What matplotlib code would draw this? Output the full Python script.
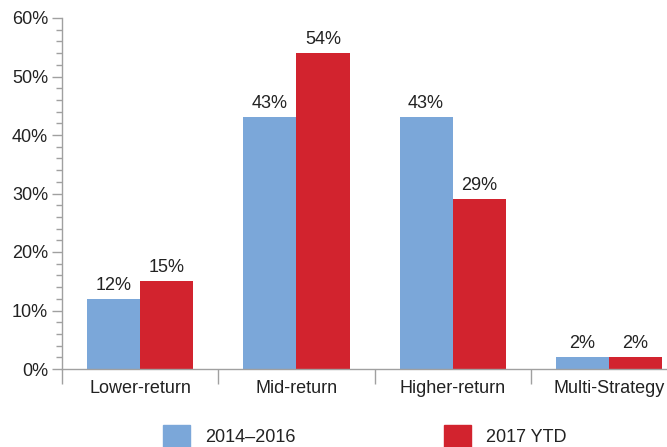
import numpy as np
import matplotlib
matplotlib.use('Agg')
import matplotlib.pyplot as plt
import matplotlib.patches as mpatches
from matplotlib.ticker import MultipleLocator, FuncFormatter

plt.rcParams['font.family'] = ['Liberation Sans', 'DejaVu Sans']

categories = ['Lower-return', 'Mid-return', 'Higher-return', 'Multi-Strategy']
series_names = ['2014\u20132016', '2017 YTD']
vals_2014_2016 = [12, 43, 43, 2]
vals_2017_ytd = [15, 54, 29, 2]

COLOR_A = '#7BA7D9'
COLOR_B = '#D2232E'
SPINE = '#A0A0A0'
FS = 13

fig = plt.figure(figsize=(6.67, 4.47), dpi=100)
# axes runs past the right edge, as in the original
ax = fig.add_axes([62 / 667, 1 - 369 / 447, 625 / 667, 351 / 447])

x = np.arange(len(categories))
w = 0.34
bars_a = ax.bar(x - w / 2, vals_2014_2016, width=w, color=COLOR_A, clip_on=False)
bars_b = ax.bar(x + w / 2, vals_2017_ytd, width=w, color=COLOR_B, clip_on=False)

for bars, vals in [(bars_a, vals_2014_2016), (bars_b, vals_2017_ytd)]:
    for b, v in zip(bars, vals):
        ax.text(b.get_x() + b.get_width() / 2, v + 0.9, f'{v}%',
                ha='center', va='bottom', fontsize=FS, color='#222222')

ax.set_xlim(-0.5, len(categories) - 0.5)
ax.set_ylim(0, 60)

ax.yaxis.set_major_locator(MultipleLocator(10))
ax.yaxis.set_minor_locator(MultipleLocator(2))
ax.yaxis.set_major_formatter(FuncFormatter(lambda v, p: f'{v:.0f}%'))
ax.tick_params(axis='y', which='major', length=7, width=1, color=SPINE,
               labelsize=FS, labelcolor='#222222', pad=3)
ax.tick_params(axis='y', which='minor', length=4, width=1, color=SPINE)

# category separators below the axis, labels at centres without ticks
ax.set_xticks(np.arange(len(categories) + 1) - 0.5, minor=True)
ax.set_xticks(x)
ax.set_xticklabels(categories)
ax.tick_params(axis='x', which='major', length=0, labelsize=FS,
               labelcolor='#222222', pad=8)
ax.tick_params(axis='x', which='minor', length=11, width=1, color=SPINE)

for s in ['top', 'right']:
    ax.spines[s].set_visible(False)
for s in ['left', 'bottom']:
    ax.spines[s].set_color(SPINE)
    ax.spines[s].set_linewidth(1)

handles = [mpatches.Patch(color=COLOR_A, label=series_names[0]),
           mpatches.Patch(color=COLOR_B, label=series_names[1])]
leg = fig.legend(handles=handles, loc='center left', bbox_to_anchor=(156 / 667, 1 - 436 / 447),
                 ncol=2, frameon=False, fontsize=FS, handlelength=1.5, handleheight=1.5,
                 handletextpad=0.83, columnspacing=8.2, borderaxespad=0)
for t in leg.get_texts():
    t.set_color('#222222')

fig.savefig('out.png', dpi=100)
